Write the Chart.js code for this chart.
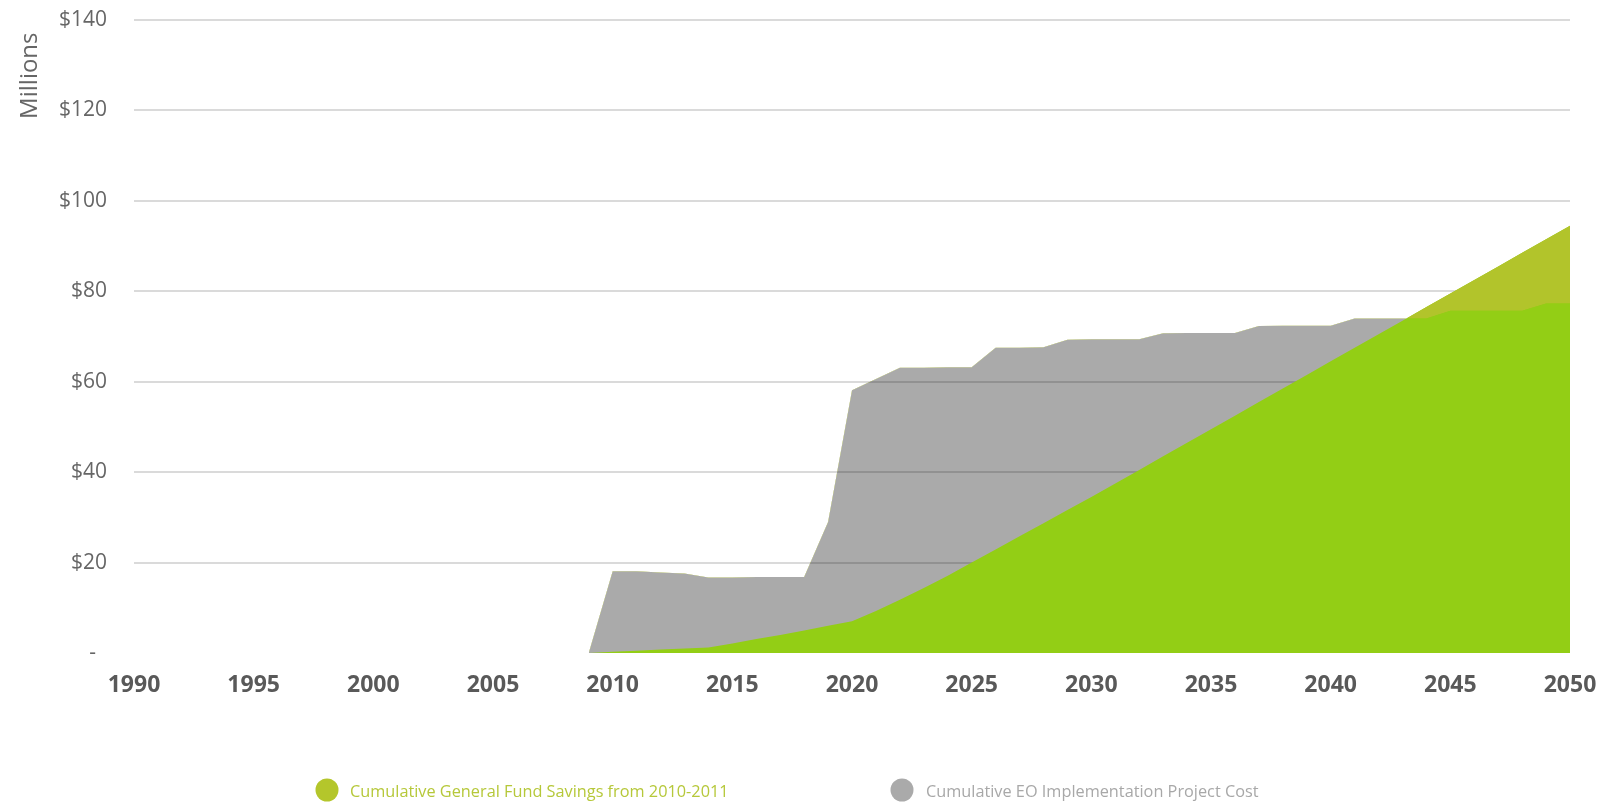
<!DOCTYPE html>
<html><head><meta charset="utf-8">
<script src="https://cdn.jsdelivr.net/npm/chart.js@4.4.1/dist/chart.umd.min.js"></script>
<style>html,body{margin:0;padding:0;background:#fff;}#wrap{width:1602px;height:803px;}</style>
</head><body><div id="wrap"><canvas id="c" width="1602" height="803"></canvas></div>
<script>
const years = [2009,2010,2011,2012,2013,2014,2015,2016,2017,2018,2019,2020,2021,2022,2023,2024,2025,2026,2027,2028,2029,2030,2031,2032,2033,2034,2035,2036,2037,2038,2039,2040,2041,2042,2043,2044,2045,2046,2047,2048,2049,2050];
const savings = [0,0.25,0.5,0.75,1.0,1.2,2.1,3.1,4.0,5.0,6.0,7.0,9.3,11.8,14.4,17.1,20.0,22.9,25.8,28.7,31.6,34.5,37.5,40.5,43.5,46.5,49.5,52.5,55.5,58.5,61.5,64.5,67.5,70.5,73.5,76.5,79.5,82.5,85.5,88.5,91.5,94.5];
const costs = [0,18.1,18.1,17.8,17.6,16.7,16.7,16.8,16.8,16.8,29.0,58.1,60.6,63.1,63.1,63.2,63.2,67.5,67.5,67.6,69.3,69.4,69.4,69.4,70.7,70.8,70.8,70.8,72.3,72.4,72.4,72.4,74.0,74.0,74.0,74.0,75.7,75.7,75.7,75.7,77.3,77.3];
const seriesNames = ['Cumulative General Fund Savings from 2010-2011', 'Cumulative EO Implementation Project Cost'];
const xTickYears = [1990,1995,2000,2005,2010,2015,2020,2025,2030,2035,2040,2045,2050];
const yTickValues = [0,20,40,60,80,100,120,140];
const yAxisTitle = 'Millions';

const GREEN = '#93ce15', OLIVE = '#b2c42b', GRAY_FILL = 'rgba(0,0,0,0.333)';
const legendStyle = [
  {dot: '#b4c62b', text: '#b6c83a', cx: 327, tx: 350},
  {dot: '#aaaaaa', text: '#a8a8a8', cx: 902, tx: 926}
];

const pts = vals => years.map((y, i) => ({x: y, y: vals[i]}));

const bottomLegend = {
  id: 'bottomLegend',
  afterDraw(chart) {
    const ctx = chart.ctx;
    ctx.save();
    ctx.font = '16.3px "Open Sans"';
    ctx.textBaseline = 'alphabetic';
    ctx.textAlign = 'left';
    seriesNames.forEach((name, i) => {
      const s = legendStyle[i];
      ctx.fillStyle = s.dot;
      ctx.beginPath();
      ctx.arc(s.cx, 790, 11.5, 0, Math.PI * 2);
      ctx.fill();
      ctx.fillStyle = s.text;
      ctx.fillText(name, s.tx, 797);
    });
    ctx.restore();
  }
};

new Chart(document.getElementById('c'), {
  type: 'line',
  data: {
    datasets: [
      {label: seriesNames[0], data: pts(savings), backgroundColor: GREEN, borderWidth: 0, pointRadius: 0, fill: 'origin', order: 2, tension: 0},
      {label: seriesNames[1], data: pts(costs), backgroundColor: GRAY_FILL, borderWidth: 0, pointRadius: 0, fill: 'origin', order: 3, tension: 0},
      {label: 'overlay', data: pts(savings), backgroundColor: OLIVE, borderWidth: 0, pointRadius: 0, order: 1, tension: 0,
       fill: {target: '-1', above: OLIVE, below: 'rgba(0,0,0,0)'}}
    ]
  },
  options: {
    responsive: false,
    animation: false,
    events: [],
    layout: {padding: {left: 16, right: 32, top: 20, bottom: 90}},
    plugins: {legend: {display: false}, tooltip: {enabled: false}, title: {display: false}},
    scales: {
      x: {
        type: 'linear', min: 1990, max: 2050,
        afterBuildTicks: s => { s.ticks = xTickYears.map(v => ({value: v})); },
        afterFit: s => { s.height = 60; s.paddingLeft = 0; s.paddingRight = 0; },
        grid: {display: false, drawTicks: false},
        border: {display: false},
        ticks: {padding: 19, maxRotation: 0, autoSkip: false, color: '#595959',
          font: {family: '"Open Sans"', size: 23, weight: 'bold'},
          callback: v => String(v)}
      },
      y: {
        min: 0, max: 140,
        afterBuildTicks: s => { s.ticks = yTickValues.map(v => ({value: v})); },
        afterFit: s => { s.width = 118; s.paddingTop = 0; s.paddingBottom = 0; },
        grid: {drawTicks: false, lineWidth: 2, color: c => c.tick && c.tick.value === 0 ? 'rgba(0,0,0,0)' : '#dadada'},
        border: {display: false},
        ticks: {padding: 27, color: '#666666', font: {family: '"Open Sans"', size: 21},
          callback: v => v === 0 ? '-  ' : '$' + v},
        title: {display: true, text: yAxisTitle + '  ', align: 'end', color: '#666666', padding: 0,
          font: {family: '"Open Sans"', size: 24}}
      }
    }
  },
  plugins: [bottomLegend]
});
</script>
</body></html>
